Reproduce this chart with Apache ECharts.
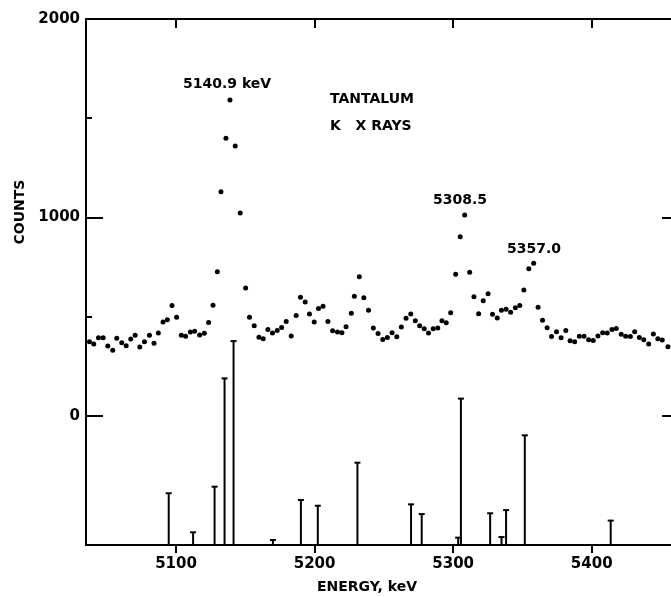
<!DOCTYPE html>
<html>
<head>
<meta charset="utf-8">
<script src="https://cdn.jsdelivr.net/npm/echarts@6/dist/echarts.min.js"></script>
<style>
  html, body { margin: 0; padding: 0; background: #fff; }
  #main { width: 671px; height: 597px; }
</style>
</head>
<body>
<div id="main"></div>
<script>
// measured spectrum (energy in keV, counts per channel)
const energy = [5037.5,5040.6,5044.0,5047.4,5050.7,5054.3,5057.2,5060.8,5064.0,5067.3,
  5070.5,5073.8,5077.2,5080.8,5084.1,5087.2,5090.6,5093.7,5097.1,5100.4,
  5103.8,5106.9,5110.3,5113.4,5117.0,5120.4,5123.5,5126.7,5129.8,5132.4,
  5136.0,5138.9,5142.7,5146.3,5150.2,5153.0,5156.4,5159.8,5162.9,5166.3,
  5169.6,5173.0,5176.2,5179.5,5183.1,5186.7,5189.8,5193.2,5196.3,5199.7,
  5202.8,5206.1,5209.6,5213.0,5216.5,5219.7,5222.7,5226.5,5228.7,5232.3,
  5235.5,5238.9,5242.4,5245.8,5249.2,5252.5,5255.9,5259.3,5262.6,5266.0,
  5269.4,5272.7,5275.8,5279.1,5282.2,5285.6,5288.9,5291.9,5295.0,5298.2,
  5301.8,5305.1,5308.3,5311.9,5315.0,5318.4,5321.7,5325.2,5328.4,5331.8,
  5334.8,5338.2,5341.5,5344.9,5348.1,5351.0,5354.6,5358.1,5361.3,5364.5,
  5367.8,5371.0,5374.6,5377.9,5381.3,5384.4,5387.7,5391.1,5394.5,5397.8,
  5401.1,5404.5,5407.9,5411.2,5414.6,5417.7,5421.3,5424.5,5427.9,5431.0,
  5434.4,5437.6,5441.1,5444.5,5447.7,5450.9,5455.0];
const counts = [373,361,393,393,351,330,390,368,353,387,
  405,346,373,405,365,417,472,484,555,496,
  405,400,422,426,407,416,470,557,726,1129,
  1399,1592,1360,1022,644,496,453,395,388,435,
  417,430,444,475,402,505,597,573,513,472,
  541,552,475,428,422,418,449,517,602,701,
  595,531,442,414,384,394,418,398,447,491,
  513,478,453,438,417,438,442,479,469,519,
  713,902,1012,723,600,514,579,615,512,492,
  531,537,522,544,555,634,741,769,547,481,
  443,399,423,393,430,378,373,400,401,383,
  379,402,418,417,434,439,411,400,399,423,
  394,383,362,412,388,382,348];

// stick spectrum: line energies and heights above the lower baseline
const lineEnergy = [5094.7,5112.3,5127.8,5135.0,5141.5,5169.9,5190.1,5202.3,5230.9,
  5269.6,5277.3,5303.6,5305.6,5326.7,5334.9,5338.2,5351.7,5413.7];
const lineHeight = [261,64,294,840,1028,25,227,198,415,
  205,156,37,738,160,40,176,553,123];

const xTicks = [5100, 5200, 5300, 5400];
const yLabels = [0, 1000, 2000];
const yMinor = [500, 1500];
const yRight = [0, 1000];

const X_MIN = 5035, X_MAX = 5463;
const Y_MIN = -652, Y_MAX = 2000;

const ink = '#000';
const font = 'DejaVu Sans';
const plain = v => String(v);

const chart = echarts.init(document.getElementById('main'));

const option = {
  animation: false,
  backgroundColor: '#fff',
  grid: { left: 86, top: 19, width: 593, height: 526, outerBoundsMode: 'none' },
  xAxis: [
    {
      type: 'value', min: X_MIN, max: X_MAX, position: 'bottom',
      axisLine: { onZero: false, lineStyle: { color: ink, width: 2 } },
      axisTick: { customValues: xTicks, length: 8, inside: false, lineStyle: { color: ink, width: 2 } },
      axisLabel: { customValues: xTicks, formatter: plain, margin: 12, color: ink, fontFamily: font, fontWeight: 'bold', fontSize: 15 },
      splitLine: { show: false }
    },
    {
      type: 'value', min: X_MIN, max: X_MAX, position: 'top',
      axisLine: { onZero: false, lineStyle: { color: ink, width: 2 } },
      axisTick: { customValues: xTicks, length: 9, inside: true, lineStyle: { color: ink, width: 2 } },
      axisLabel: { show: false },
      splitLine: { show: false }
    }
  ],
  yAxis: [
    {
      type: 'value', min: Y_MIN, max: Y_MAX, position: 'left',
      axisLine: { show: true, onZero: false, lineStyle: { color: ink, width: 2 } },
      axisTick: { customValues: yLabels, length: 17, inside: true, lineStyle: { color: ink, width: 2 } },
      axisLabel: { customValues: yLabels, formatter: plain, margin: 6, color: ink, fontFamily: font, fontWeight: 'bold', fontSize: 15 },
      splitLine: { show: false }
    },
    {
      type: 'value', min: Y_MIN, max: Y_MAX, position: 'left',
      axisLine: { show: false, onZero: false },
      axisTick: { customValues: yMinor, length: 6, inside: true, lineStyle: { color: ink, width: 2 } },
      axisLabel: { show: false },
      splitLine: { show: false }
    },
    {
      type: 'value', min: Y_MIN, max: Y_MAX, position: 'right',
      axisLine: { show: true, onZero: false, lineStyle: { color: ink, width: 2 } },
      axisTick: { customValues: yRight, length: 17, inside: true, lineStyle: { color: ink, width: 2 } },
      axisLabel: { show: false },
      splitLine: { show: false }
    }
  ],
  series: [
    {
      type: 'scatter',
      symbol: 'circle',
      symbolSize: 5,
      itemStyle: { color: ink, opacity: 1 },
      data: energy.map((e, i) => [e, counts[i]])
    },
    {
      type: 'custom',
      data: lineEnergy.map((e, i) => [e, lineHeight[i]]),
      renderItem: function (params, api) {
        const top = api.coord([api.value(0), Y_MIN + api.value(1)]);
        const base = api.coord([api.value(0), Y_MIN]);
        return {
          type: 'group',
          children: [
            { type: 'line', shape: { x1: top[0], y1: top[1], x2: base[0], y2: base[1] },
              style: { stroke: ink, lineWidth: 2 } },
            { type: 'line', shape: { x1: top[0] - 3, y1: top[1], x2: top[0] + 3, y2: top[1] },
              style: { stroke: ink, lineWidth: 2 } }
          ]
        };
      }
    }
  ],
  graphic: [
    { type: 'text', left: 183, top: 77, style: { text: '5140.9 keV', font: 'bold 14px ' + font, fill: ink } },
    { type: 'text', left: 330, top: 92, style: { text: 'TANTALUM', font: 'bold 14px ' + font, fill: ink } },
    { type: 'text', left: 330, top: 119, style: { text: 'K   X RAYS', font: 'bold 14px ' + font, fill: ink } },
    { type: 'text', left: 433, top: 193, style: { text: '5308.5', font: 'bold 14px ' + font, fill: ink } },
    { type: 'text', left: 507, top: 242, style: { text: '5357.0', font: 'bold 14px ' + font, fill: ink } },
    { type: 'text', x: 20, y: 212, rotation: Math.PI / 2,
      style: { text: 'COUNTS', font: 'bold 14px ' + font, fill: ink, align: 'center', verticalAlign: 'middle' } },
    { type: 'text', x: 367, y: 587,
      style: { text: 'ENERGY, keV', font: 'bold 14px ' + font, fill: ink, align: 'center', verticalAlign: 'middle' } }
  ]
};

chart.setOption(option);
</script>
</body>
</html>
